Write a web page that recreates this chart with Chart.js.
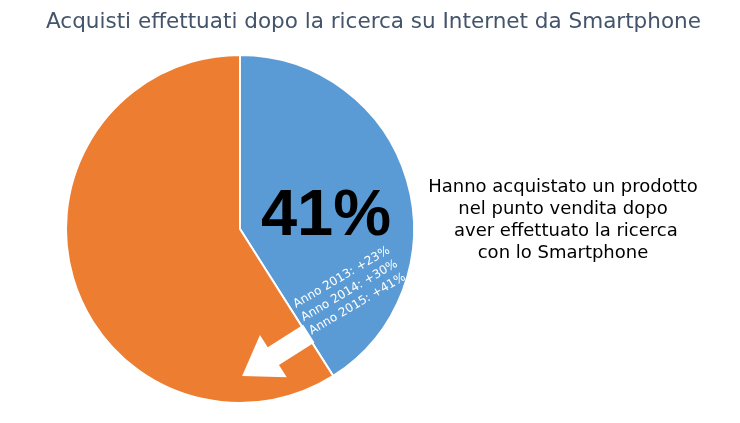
<!DOCTYPE html>
<html>
<head>
<meta charset="utf-8">
<script src="https://cdn.jsdelivr.net/npm/chart.js@4/dist/chart.umd.min.js"></script>
<style>
  html, body { margin: 0; padding: 0; background: #fff; }
  #wrap { width: 740px; height: 423px; }
</style>
</head>
<body>
<div id="wrap"><canvas id="pie"></canvas></div>
<script>
// dati
const categories = ['Hanno acquistato in negozio', 'Altri'];
const values = [41, 59];
const colors = ['#5B9BD5', '#ED7D31'];
const yearLabels = ['Anno 2013: +23%', 'Anno 2014: +30%', 'Anno 2015: +41%'];
const bigLabel = '41%';
const titleText = 'Acquisti effettuati dopo la ricerca su Internet da Smartphone';
const sideText = ['Hanno acquistato un prodotto', 'nel punto vendita dopo', ' aver effettuato la ricerca', 'con lo Smartphone'];

// testo con scala orizzontale
function narrowText(ctx, t, x, y, sx) {
  ctx.save();
  ctx.translate(x, y);
  ctx.scale(sx, 1);
  ctx.fillText(t, 0, 0);
  ctx.restore();
}

// testi e freccia sopra la torta
const overlay = {
  id: 'overlay',
  afterDatasetsDraw(chart) {
    const ctx = chart.ctx;
    const arc = chart.getDatasetMeta(0).data[0];
    const cx = arc.x, cy = arc.y, r = arc.outerRadius;
    const end = arc.endAngle;

    // freccia bianca perpendicolare al bordo della fetta
    const ux = Math.cos(end), uy = Math.sin(end);   // lungo il bordo
    const nx = -uy, ny = ux;                         // perpendicolare (verso l'arancione)
    const bx = cx + ux * r * 0.72, by = cy + uy * r * 0.72;
    const shaft = 10.5, head = 25, len = 77, headLen = 37;
    const p = (a, b) => [bx + nx * a + ux * b, by + ny * a + uy * b];
    const pts = [
      p(-2, -shaft), p(len - headLen, -shaft), p(len - headLen, -head),
      p(len, 0), p(len - headLen, head), p(len - headLen, shaft), p(-2, shaft)
    ];
    ctx.save();
    ctx.fillStyle = '#fff';
    ctx.beginPath();
    pts.forEach((q, i) => i ? ctx.lineTo(q[0], q[1]) : ctx.moveTo(q[0], q[1]));
    ctx.closePath();
    ctx.fill();

    // titolo
    ctx.fillStyle = '#44546A';
    ctx.font = '22px "DejaVu Sans Condensed", "DejaVu Sans", sans-serif';
    ctx.textAlign = 'left';
    ctx.textBaseline = 'alphabetic';
    const w = ctx.measureText(titleText).width;
    narrowText(ctx, titleText, 46, 28, 655 / w);

    // 41%
    ctx.fillStyle = '#000';
    ctx.font = 'bold 65px "Liberation Sans", Arial, sans-serif';
    ctx.textAlign = 'center';
    ctx.fillText(bigLabel, cx + 86, cy + 6);

    // anni, ruotati
    ctx.save();
    ctx.translate(cx + 56, cy + 79);
    ctx.rotate(-30.5 * Math.PI / 180);
    ctx.fillStyle = '#fff';
    ctx.font = '12px "DejaVu Sans", sans-serif';
    ctx.textAlign = 'left';
    yearLabels.forEach((t, i) => ctx.fillText(t, 0, i * 15.5));
    ctx.restore();

    // testo a destra
    ctx.fillStyle = '#000';
    ctx.font = '18px "DejaVu Sans", sans-serif';
    ctx.textAlign = 'center';
    sideText.forEach((t, i) => ctx.fillText(t, 563, 192 + i * 22));
    ctx.restore();
  }
};

const config = {
  type: 'pie',
  data: {
    labels: categories,
    datasets: [{
      data: values,
      backgroundColor: colors,
      borderColor: '#fff',
      borderWidth: 2
    }]
  },
  options: {
    responsive: true,
    maintainAspectRatio: false,
    animation: false,
    layout: {
      padding: { top: 54, bottom: 19, left: 65, right: 325 }
    },
    plugins: {
      legend: { display: false },
      tooltip: { enabled: false },
      title: { display: false }
    }
  },
  plugins: [overlay]
};

const ctx = document.getElementById('pie').getContext('2d');
const pieChart = new Chart(ctx, config);
</script>
</body>
</html>
